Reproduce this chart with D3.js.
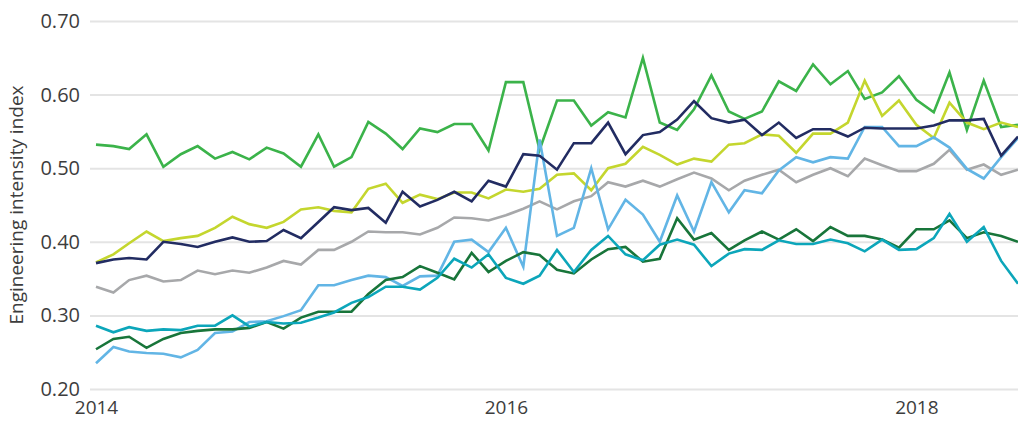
<!DOCTYPE html>
<html>
<head>
<meta charset="utf-8">
<script src="https://cdn.jsdelivr.net/npm/d3@7"></script>
<style>
    body { margin: 0; background: #fff; }
    .axis text { font-family: "Open Sans", sans-serif; fill: #3d3d3d; }
    .line { fill: none; stroke-width: 2.6; stroke-linejoin: miter; }
</style>
</head>
<body>
<div class="main"></div>
<script>

// monthly, Jan 2014 .. Jul 2018
const months = d3.timeMonth.range(new Date(2014, 0, 1), new Date(2018, 7, 1))
const yearTicks = [2014, 2016, 2018]
const yTicks = [0.20, 0.30, 0.40, 0.50, 0.60, 0.70]

const brightGreen = [0.532, 0.530, 0.526, 0.546, 0.502, 0.519, 0.530, 0.513, 0.522, 0.512, 0.528, 0.520, 0.502, 0.546, 0.502, 0.515, 0.563, 0.547, 0.526, 0.554, 0.549, 0.560, 0.560, 0.524, 0.617, 0.617, 0.525, 0.592, 0.592, 0.558, 0.576, 0.569, 0.650, 0.562, 0.552, 0.580, 0.626, 0.577, 0.567, 0.577, 0.618, 0.605, 0.641, 0.614, 0.632, 0.594, 0.603, 0.625, 0.593, 0.576, 0.630, 0.552, 0.619, 0.556, 0.559]
const yellowGreen = [0.372, 0.383, 0.398, 0.414, 0.401, 0.405, 0.408, 0.419, 0.434, 0.424, 0.419, 0.427, 0.444, 0.447, 0.442, 0.440, 0.472, 0.479, 0.453, 0.464, 0.458, 0.467, 0.467, 0.459, 0.471, 0.468, 0.472, 0.491, 0.493, 0.470, 0.500, 0.506, 0.529, 0.518, 0.505, 0.513, 0.509, 0.532, 0.534, 0.546, 0.544, 0.521, 0.547, 0.547, 0.562, 0.619, 0.571, 0.592, 0.559, 0.541, 0.589, 0.562, 0.553, 0.562, 0.556]
const navy = [0.371, 0.376, 0.378, 0.376, 0.400, 0.397, 0.393, 0.400, 0.406, 0.400, 0.401, 0.416, 0.405, 0.427, 0.447, 0.443, 0.446, 0.426, 0.468, 0.448, 0.457, 0.468, 0.455, 0.483, 0.475, 0.519, 0.517, 0.498, 0.534, 0.534, 0.562, 0.519, 0.545, 0.549, 0.566, 0.591, 0.568, 0.562, 0.566, 0.545, 0.562, 0.541, 0.553, 0.553, 0.543, 0.555, 0.554, 0.554, 0.554, 0.558, 0.565, 0.565, 0.567, 0.517, 0.543]
const gray = [0.339, 0.331, 0.348, 0.354, 0.346, 0.348, 0.361, 0.356, 0.361, 0.358, 0.365, 0.374, 0.369, 0.389, 0.389, 0.400, 0.414, 0.413, 0.413, 0.410, 0.419, 0.433, 0.432, 0.429, 0.436, 0.445, 0.455, 0.444, 0.455, 0.462, 0.481, 0.475, 0.483, 0.475, 0.485, 0.494, 0.486, 0.470, 0.483, 0.491, 0.498, 0.481, 0.491, 0.500, 0.489, 0.513, 0.504, 0.496, 0.496, 0.506, 0.525, 0.498, 0.505, 0.491, 0.498]
const lightBlue = [0.235, 0.257, 0.251, 0.249, 0.248, 0.243, 0.253, 0.276, 0.278, 0.291, 0.292, 0.299, 0.307, 0.341, 0.341, 0.348, 0.354, 0.352, 0.340, 0.353, 0.354, 0.400, 0.403, 0.386, 0.419, 0.366, 0.539, 0.408, 0.419, 0.500, 0.417, 0.457, 0.437, 0.400, 0.463, 0.414, 0.481, 0.440, 0.470, 0.466, 0.497, 0.515, 0.508, 0.515, 0.513, 0.556, 0.556, 0.530, 0.530, 0.542, 0.528, 0.499, 0.486, 0.515, 0.541]
const teal = [0.286, 0.277, 0.284, 0.279, 0.281, 0.280, 0.286, 0.286, 0.300, 0.285, 0.291, 0.289, 0.290, 0.297, 0.304, 0.317, 0.325, 0.339, 0.339, 0.335, 0.351, 0.377, 0.365, 0.383, 0.351, 0.343, 0.354, 0.389, 0.359, 0.389, 0.408, 0.383, 0.375, 0.396, 0.403, 0.396, 0.367, 0.384, 0.390, 0.389, 0.402, 0.397, 0.397, 0.403, 0.398, 0.387, 0.403, 0.389, 0.390, 0.405, 0.438, 0.400, 0.420, 0.374, 0.343]
const darkGreen = [0.254, 0.268, 0.271, 0.256, 0.268, 0.276, 0.279, 0.281, 0.281, 0.283, 0.291, 0.282, 0.297, 0.305, 0.305, 0.305, 0.329, 0.348, 0.352, 0.367, 0.358, 0.349, 0.385, 0.359, 0.374, 0.386, 0.382, 0.362, 0.357, 0.376, 0.390, 0.393, 0.373, 0.377, 0.432, 0.403, 0.412, 0.389, 0.402, 0.414, 0.403, 0.417, 0.401, 0.420, 0.408, 0.408, 0.403, 0.392, 0.417, 0.417, 0.429, 0.405, 0.413, 0.408, 0.400]

// draw order: first is at the bottom
const series = [
    { values: gray, color: "#a7a8aa" },
    { values: brightGreen, color: "#3bb34a" },
    { values: yellowGreen, color: "#c4d62e" },
    { values: lightBlue, color: "#62b5e5" },
    { values: navy, color: "#222c62" },
    { values: darkGreen, color: "#18753a" },
    { values: teal, color: "#0ca6ba" },
]

////////////
// CANVAS //
////////////

const w = 1018
const h = 421
const padding = { top: 21, right: 0, bottom: 32, left: 96 }
const gridLeft = 90

const svg = d3.select(".main")
    .append("svg")
    .attr("width", w)
    .attr("height", h)

////////////
// SCALES //
////////////

const xScale = d3.scaleTime()
    .domain([months[0], months[months.length - 1]])
    .range([padding.left, w - padding.right])

const yScale = d3.scaleLinear()
    .domain([0.2, 0.7])
    .range([h - padding.bottom, padding.top])

///////////
// AXLES //
///////////

const yAxis = d3.axisLeft(yScale)
    .tickValues(yTicks)
    .tickFormat(d3.format(".2f"))
    .tickSize(-(w - gridLeft))
    .tickPadding(10)

svg.append("g")
    .attr("class", "axis")
    .attr("transform", `translate(${gridLeft}, 0)`)
    .call(yAxis)
    .call(g => g.select(".domain").remove())
    .call(g => g.selectAll(".tick line").attr("stroke", "#e4e4e4").attr("stroke-width", 2))
    .call(g => g.selectAll(".tick text").style("font-size", "20px"))

const xAxis = d3.axisBottom(xScale)
    .tickValues(yearTicks.map(y => new Date(y, 0, 1)))
    .tickFormat(d3.timeFormat("%Y"))
    .tickSize(0)
    .tickPadding(12)

svg.append("g")
    .attr("class", "axis")
    .attr("transform", `translate(0, ${h - padding.bottom})`)
    .call(xAxis)
    .call(g => g.select(".domain").remove())
    .call(g => g.selectAll(".tick text").style("font-size", "19px"))

svg.append("text")
    .attr("class", "axis")
    .attr("transform", `translate(23, ${(padding.top + h - padding.bottom) / 2}) rotate(-90)`)
    .attr("text-anchor", "middle")
    .style("font-family", "'Open Sans', sans-serif")
    .style("font-size", "19px")
    .style("fill", "#3d3d3d")
    .text("Engineering intensity index")

///////////
// LINES //
///////////

const line = d3.line()
    .x((d, i) => xScale(months[i]))
    .y(d => yScale(d))

svg.selectAll(".line")
    .data(series)
    .enter()
    .append("path")
    .attr("class", "line")
    .attr("stroke", d => d.color)
    .attr("d", d => line(d.values))

</script>
</body>
</html>
